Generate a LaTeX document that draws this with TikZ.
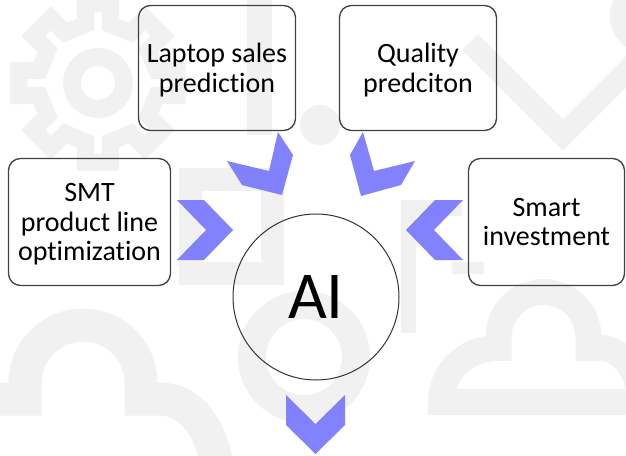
\documentclass[tikz,border=0pt]{standalone}
\usepackage{fontspec}
\setmainfont{Carlito}[Ligatures={NoCommon}]
\definecolor{wmgray}{RGB}{241,241,241}
\definecolor{boxgray}{RGB}{62,64,74}
\definecolor{chevblue}{RGB}{126,126,252}
\begin{document}
\begin{tikzpicture}[x=1pt,y=-1pt,
  wm/.style={draw=wmgray,line width=#1},
  box/.style={draw=boxgray,line width=1.3pt,rounded corners=12pt,
    minimum width=157pt,minimum height=125pt,align=center,inner sep=0pt,
    text depth=-2pt,font=\fontsize{28}{29.5}\selectfont},
  chev/.style={fill=chevblue,draw=none,fill opacity=0.97}]
\fill[white] (0,0) rectangle (626,455);
\useasboundingbox (0,0) rectangle (626,455);
% ---- watermark ----
\draw[wm=18] (98,83) circle (26);
\draw[wm=17,line join=miter] ([shift={(98,83)}]-12:60)
  \foreach \a in {0,45,...,315}{ -- ([shift={(98,83)}]\a-12:60) -- ([shift={(98,83)}]\a-9:80) -- ([shift={(98,83)}]\a+9:80) -- ([shift={(98,83)}]\a+12:60)} -- cycle;
\fill[wmgray] (247,0) rectangle (272,135);
\draw[wm=23] (190,179) rectangle (272,273);
\fill[wmgray] (320,125) circle (20);
\fill[wmgray] (648,16) circle (38);
\draw[wm=22] (470,42) -- (563,135) -- (650,48);
\fill[wmgray] (401,200) rectangle (416,333);
\fill[wmgray] (401,200) rectangle (462,216);
\fill[wmgray] (452,262) rectangle (484,274);
\draw[wm=28] (304,357) circle (52);
% bottom-left cloud
\draw[wm=33] (-20,399) -- (25,399) -- (25,383) arc[start angle=180,end angle=360,radius=58] -- (141,399) -- (160,399)
  .. controls (192,399) and (212,430) .. (218,470);
% bottom-right cloud
\draw[wm=26] (700,402) -- (441,402) .. controls (441,372) and (465,348) .. (498.5,348) -- (498.5,337)
  arc[start angle=180,end angle=360,radius=45] -- (588.5,348) -- (600,348)
  .. controls (622,348) and (640,372) .. (640,402);
% ---- boxes ----
\node[box] (laptop) at (217,68) {Laptop sales\\prediction};
\node[box] (quality) at (418,68) {Quality\\predciton};
\node[box,minimum width=162pt,minimum height=127pt] (smt) at (89.5,222) {SMT\\product line\\optimization};
\node[box,minimum width=156pt,minimum height=127pt] (smart) at (546.5,222) {Smart\\investment};
\node[draw=boxgray!80!black,line width=1pt,circle,minimum size=166pt,inner sep=0pt,
  font=\fontsize{67}{67}\selectfont] (ai) at (316,297) {AI};
% ---- chevrons ----
\fill[chev] (177,200) -- (204,200) -- (233,230) -- (204,260) -- (177,260) -- (206,230) -- cycle;
\fill[chev] (463,200) -- (435,200) -- (406,230) -- (435,260) -- (463,260) -- (434,230) -- cycle;
\fill[chev] (286,395) -- (315.5,424) -- (345,395) -- (345,425) -- (315.5,454) -- (286,425) -- cycle;
\fill[chev] (278,132) -- (293,155) -- (282,195) -- (242,185) -- (227,161) -- (269,171) -- cycle;
\fill[chev] (363,132) -- (350,155) -- (361,196) -- (401,185) -- (415,161) -- (374,171) -- cycle;
\end{tikzpicture}
\end{document}
